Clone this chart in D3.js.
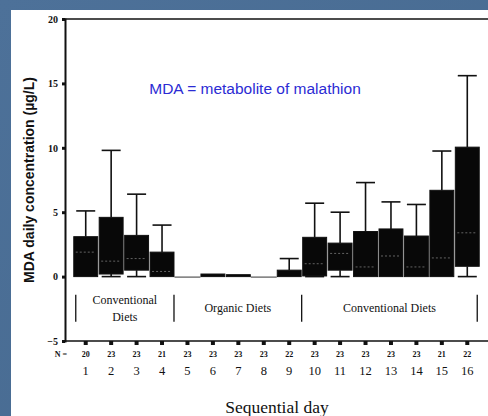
<!DOCTYPE html>
<html><head><meta charset="utf-8">
<script src="https://cdn.jsdelivr.net/npm/d3@7"></script>
<style>
html,body{margin:0;padding:0;background:#4a6f97;}
svg{display:block;}
</style></head>
<body>
<svg id="c" width="488" height="416"></svg>
<script>
const days = [1,2,3,4,5,6,7,8,9,10,11,12,13,14,15,16];
const nCounts = [20,23,23,21,23,23,23,23,22,23,23,23,23,23,21,22];
const q1 = [0,0.2,0.5,0,0,0,0,0,0,0.05,0.5,0,0,0,0,0.8];
const q3 = [3.1,4.6,3.2,1.9,0,0.2,0.15,0,0.5,3.05,2.6,3.5,3.7,3.15,6.7,10.05];
const medians = [1.9,1.2,1.4,0.4,0,0.05,0.05,0,0.2,1.0,1.8,0.75,1.6,0.75,1.45,3.4];
const whiskerHigh = [5.1,9.8,6.4,4.0,0,0.2,0.15,0,1.4,5.7,5.0,7.3,5.8,5.6,9.75,15.6];
const whiskerLow = [0,0,0,0,0,0,0,0,0,0,0,0,0,0,0,0];
const yTicks = [-5,0,5,10,15,20];
const groupLabels = [["Conventional","Diets"],["Organic Diets"],["Conventional Diets"]];
const groupStart = [1,5,10];
const groupEnd = [4,9,16];

const svg = d3.select("#c");
const defs = svg.append("defs");
const lg = defs.append("linearGradient").attr("id","bg").attr("x1","0").attr("y1","0").attr("x2","1").attr("y2","1");
lg.append("stop").attr("offset","0").attr("stop-color","#4d7199");
lg.append("stop").attr("offset","1").attr("stop-color","#46698f");
svg.append("rect").attr("width",488).attr("height",416).attr("fill","url(#bg)");
svg.append("rect").attr("x",11).attr("y",10).attr("width",477).attr("height",406).attr("fill","#ffffff");

const data = days.map((d,i)=>({day:d,n:nCounts[i],q1:q1[i],q3:q3[i],med:medians[i],hi:whiskerHigh[i],lo:whiskerLow[i]}));

const x = d3.scaleBand().domain(days).range([73,480]).paddingInner(0.06).paddingOuter(0.03);
const y = d3.scaleLinear().domain([-5,20]).range([341,19]);
const serif = "'Liberation Serif','DejaVu Serif',serif";

svg.append("line").attr("x1",65).attr("x2",488).attr("y1",y(20)).attr("y2",y(20)).attr("stroke","#111").attr("stroke-width",1.5);
svg.append("line").attr("x1",65).attr("x2",488).attr("y1",y(-5)).attr("y2",y(-5)).attr("stroke","#111").attr("stroke-width",1.5);

const yAxis = d3.axisLeft(y).tickValues(yTicks).tickSize(3).tickPadding(4);
const ga = svg.append("g").attr("transform","translate(65,0)").call(yAxis);
ga.select(".domain").attr("stroke","#111").attr("stroke-width",2);
ga.selectAll(".tick line").attr("stroke","#111").attr("stroke-width",3);
ga.selectAll(".tick text").attr("font-family",serif).attr("font-weight","bold").attr("font-size","10px").attr("fill","#111");

const xAxis = d3.axisBottom(x).tickSize(4).tickPadding(21).tickFormat(d=>d);
const gx = svg.append("g").attr("transform",`translate(0,${y(-5)})`).call(xAxis);
gx.select(".domain").remove();
gx.selectAll(".tick line").attr("stroke","#111").attr("stroke-width",4);
gx.selectAll(".tick text").attr("font-family",serif).attr("font-size","12.5px").attr("fill","#111");

svg.append("text").attr("x",61).attr("y",357).attr("text-anchor","middle").attr("font-family",serif).attr("font-weight","bold").attr("font-size","8px").attr("fill","#111").text("N =");
svg.selectAll("text.n").data(data).enter().append("text").attr("class","n")
  .attr("x",d=>x(d.day)+x.bandwidth()/2).attr("y",357).attr("text-anchor","middle")
  .attr("font-family",serif).attr("font-weight","bold").attr("font-size","8px").attr("fill","#111").text(d=>d.n);

const cx = d=>x(d.day)+x.bandwidth()/2;
const capW = 9.5;
const wk = svg.append("g").attr("stroke","#111").attr("stroke-width",1.6);
data.filter(d=>d.hi>d.q3).forEach(d=>{
  wk.append("line").attr("x1",cx(d)).attr("x2",cx(d)).attr("y1",y(d.q3)).attr("y2",y(d.hi));
  wk.append("line").attr("x1",cx(d)-capW).attr("x2",cx(d)+capW).attr("y1",y(d.hi)).attr("y2",y(d.hi));
});
data.filter(d=>d.q1>d.lo).forEach(d=>{
  wk.append("line").attr("x1",cx(d)).attr("x2",cx(d)).attr("y1",y(d.q1)).attr("y2",y(d.lo));
  wk.append("line").attr("x1",cx(d)-capW).attr("x2",cx(d)+capW).attr("y1",y(d.lo)).attr("y2",y(d.lo));
});

svg.selectAll("rect.box").data(data.filter(d=>d.q3>d.q1)).enter().append("rect").attr("class","box")
  .attr("x",d=>x(d.day)).attr("width",x.bandwidth())
  .attr("y",d=>y(d.q3)).attr("height",d=>y(d.q1)-y(d.q3))
  .attr("fill","#080808").attr("stroke","#111").attr("stroke-width",1);
// zero-height boxes drawn as flat lines
svg.selectAll("line.flat").data(data.filter(d=>d.q3<=d.q1)).enter().append("line").attr("class","flat")
  .attr("x1",d=>x(d.day)-1).attr("x2",d=>x(d.day)+x.bandwidth()+1)
  .attr("y1",d=>y(d.q1)+0.5).attr("y2",d=>y(d.q1)+0.5)
  .attr("stroke","#555").attr("stroke-width",1.2);

svg.selectAll("line.med").data(data.filter(d=>d.q3-d.q1>0.6)).enter().append("line").attr("class","med")
  .attr("x1",d=>x(d.day)+2).attr("x2",d=>x(d.day)+x.bandwidth()-2)
  .attr("y1",d=>y(d.med)).attr("y2",d=>y(d.med))
  .attr("stroke","#7a7a7a").attr("stroke-width",0.8).attr("stroke-dasharray","2,2");

const sepX = [x(groupStart[0])+2, x(groupEnd[0])+x.bandwidth()+0, x(groupEnd[1])+x.bandwidth()+0.5, x(groupEnd[2])+x.bandwidth()-2];
svg.selectAll("line.sep").data(sepX).enter().append("line").attr("class","sep")
  .attr("x1",d=>d).attr("x2",d=>d).attr("y1",y(-1.4)).attr("y2",y(-3.5))
  .attr("stroke","#111").attr("stroke-width",1.3);
groupLabels.forEach((lab,i)=>{
  const mid = (sepX[i]+sepX[i+1])/2;
  lab.forEach((line,j)=>{
    const yy = lab.length===1 ? y(-2.45)+4 : (j===0 ? y(-1.8)+4 : y(-3.1)+4);
    svg.append("text").attr("x",mid).attr("y",yy).attr("text-anchor","middle")
      .attr("font-family",serif).attr("font-size","12px").attr("fill","#111").text(line);
  });
});

svg.append("text").attr("transform","translate(34,180) rotate(-90)").attr("text-anchor","middle")
  .attr("font-family","'Liberation Sans',Arial,sans-serif").attr("font-weight","bold").attr("font-size","14px").attr("fill","#111")
  .text("MDA daily concentration (µg/L)");

svg.append("text").attr("x",277).attr("y",413).attr("text-anchor","middle")
  .attr("font-family",serif).attr("font-size","17.5px").attr("fill","#111").text("Sequential day");

svg.append("text").attr("x",255).attr("y",94).attr("text-anchor","middle")
  .attr("font-family","'Liberation Sans',Arial,sans-serif").attr("font-size","15.5px").attr("fill","#2b2bd4")
  .text("MDA = metabolite of malathion");
</script>
</body></html>
